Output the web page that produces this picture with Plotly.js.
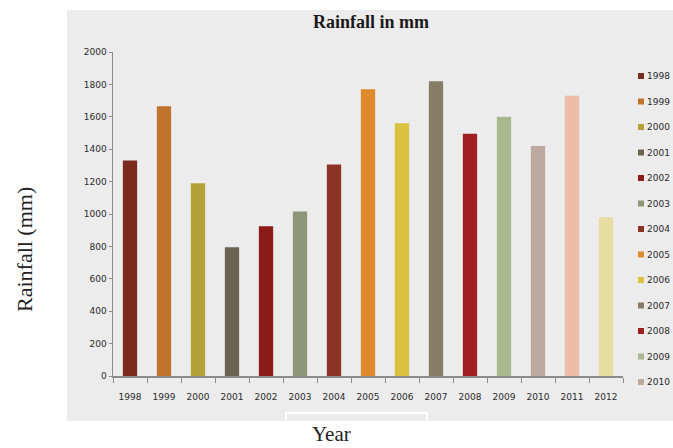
<!DOCTYPE html>
<html>
<head>
<meta charset="utf-8">
<script src="https://cdn.plot.ly/plotly-3.0.1.min.js"></script>
<style>
  html, body { margin: 0; padding: 0; background: #ffffff; }
  #chart { width: 673px; height: 448px; }
</style>
</head>
<body>
<div id="chart"></div>
<script>
// Annual rainfall totals (mm)
const years = ['1998','1999','2000','2001','2002','2003','2004','2005','2006','2007','2008','2009','2010','2011','2012'];
const rainfall = [1330, 1665, 1190, 795, 925, 1015, 1305, 1770, 1560, 1820, 1495, 1600, 1420, 1730, 980];
const barColors = ['#7a2b1d','#c1722c','#b3a235','#6a6352','#8c1b18','#8d9676','#8c3423','#de8a2d','#d8c23e','#877c66','#a01f23','#a9b88f','#bea9a1','#ecbca7','#e7dca2'];
// The legend box lists only the first thirteen years
const legendYears = years.slice(0, 13);
const yTicks = [0, 200, 400, 600, 800, 1000, 1200, 1400, 1600, 1800, 2000];

const W = 673, H = 448;
const M = { l: 113, r: 50, t: 52, b: 72 };
const plotW = W - M.l - M.r, plotH = H - M.t - M.b;
// pixel -> paper coordinate helpers for the decorations around the plot
const px = x => (x - M.l) / plotW;
const py = y => (H - M.b - y) / plotH;

const tickFont = { family: 'DejaVu Sans, sans-serif', size: 9, color: '#2b2b2b' };
const axisGray = '#8c8c8c';

const trace = {
  type: 'bar',
  x: years,
  y: rainfall,
  marker: { color: barColors, line: { width: 0 } },
  showlegend: false,
  hoverinfo: 'x+y'
};

const shapes = [
  // light grey chart panel
  { type: 'rect', xref: 'paper', yref: 'paper', layer: 'below',
    x0: px(67), x1: px(673), y0: py(421), y1: py(10),
    fillcolor: '#ececec', line: { width: 0 } },
  // empty title frame under the category labels
  { type: 'rect', xref: 'paper', yref: 'paper', layer: 'below',
    x0: px(286), x1: px(427), y0: py(422), y1: py(413),
    fillcolor: '#ececec', line: { color: '#ffffff', width: 2 } }
];

const annotations = [
  { xref: 'paper', yref: 'paper', x: px(24), y: py(250), textangle: -90,
    text: 'Rainfall (mm)', showarrow: false, xanchor: 'center', yanchor: 'middle',
    font: { family: 'Liberation Serif, Times New Roman, serif', size: 22, color: '#222222' } },
  { xref: 'paper', yref: 'paper', x: px(331), y: py(434),
    text: 'Year', showarrow: false, xanchor: 'center', yanchor: 'middle',
    font: { family: 'Liberation Serif, Times New Roman, serif', size: 21, color: '#222222' } }
];

// legend: small colour swatch followed by the year
legendYears.forEach((yr, i) => {
  const cy = 76 + i * 25.5;
  shapes.push({ type: 'rect', xref: 'paper', yref: 'paper',
    x0: px(638), x1: px(644), y0: py(cy + 3), y1: py(cy - 3),
    fillcolor: barColors[i], line: { width: 0 } });
  annotations.push({ xref: 'paper', yref: 'paper', x: px(645), y: py(cy),
    text: yr, showarrow: false, xanchor: 'left', yanchor: 'middle',
    font: tickFont });
});

const layout = {
  width: W, height: H,
  margin: M,
  paper_bgcolor: '#ffffff',
  plot_bgcolor: 'rgba(0,0,0,0)',
  title: {
    text: '<b>Rainfall in mm</b>',
    xref: 'paper', x: px(371), xanchor: 'center',
    yref: 'container', y: 1 - 22 / H, yanchor: 'middle',
    font: { family: 'Liberation Serif, Times New Roman, serif', size: 18, color: '#1a1a1a' }
  },
  bargap: 0.58,
  xaxis: {
    type: 'category',
    showline: true, linecolor: axisGray, linewidth: 1.5,
    ticks: 'outside', tickson: 'boundaries', ticklen: 5, tickcolor: axisGray, tickwidth: 1,
    ticklabelstandoff: 12,
    tickfont: tickFont,
    showgrid: false, zeroline: false, fixedrange: true
  },
  yaxis: {
    range: [0, 2000],
    tickvals: yTicks,
    ticktext: yTicks.map(String),
    showline: true, linecolor: axisGray, linewidth: 1.5,
    ticks: 'outside', ticklen: 3, tickcolor: axisGray,
    tickfont: tickFont,
    showgrid: false, zeroline: false, fixedrange: true
  },
  shapes: shapes,
  annotations: annotations
};

Plotly.newPlot('chart', [trace], layout, { displayModeBar: false, staticPlot: true });
</script>
</body>
</html>
